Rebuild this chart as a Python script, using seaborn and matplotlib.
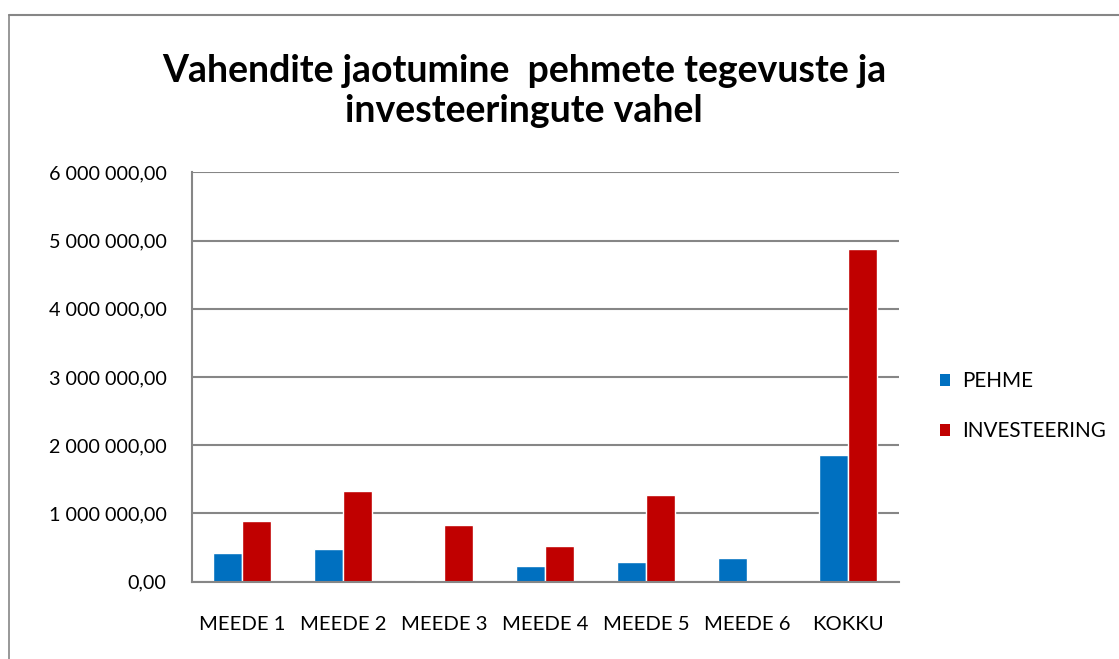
import matplotlib
matplotlib.use("Agg")
import matplotlib.pyplot as plt
import seaborn as sns
import pandas as pd
from matplotlib.ticker import FuncFormatter, MultipleLocator
from matplotlib.patches import Patch
from matplotlib.lines import Line2D

categories = ["MEEDE 1", "MEEDE 2", "MEEDE 3", "MEEDE 4", "MEEDE 5", "MEEDE 6", "KOKKU"]
pehme = [420000, 480000, 20000, 230000, 290000, 350000, 1860000]
investeering = [890000, 1330000, 830000, 520000, 1270000, 0, 4880000]
series_names = ["PEHME", "INVESTEERING"]
colors = ["#0070C0", "#C00000"]
title = "Vahendite jaotumine  pehmete tegevuste ja\ninvesteeringute vahel"

df = pd.DataFrame({
    "cat": categories * 2,
    "series": [series_names[0]] * len(categories) + [series_names[1]] * len(categories),
    "value": pehme + investeering,
})

sns.set_theme(style="white")
plt.rcParams["font.family"] = ["Lato", "DejaVu Sans"]
plt.rcParams["text.color"] = "black"

fig = plt.figure(figsize=(11.19, 6.59), dpi=100)
ax = fig.add_axes([191.5 / 1119, 1 - 581.7 / 659, 707 / 1119, 409.4 / 659])

sns.barplot(data=df, x="cat", y="value", hue="series", order=categories,
            hue_order=series_names, palette=dict(zip(series_names, colors)),
            width=0.575, gap=0, saturation=1, ax=ax, legend=False, errorbar=None)

ax.set_ylim(0, 6000000)
ax.set_xlim(-0.5, len(categories) - 0.5)
ax.yaxis.set_major_locator(MultipleLocator(1000000))

def fmt(v, pos):
    s = f"{v:,.2f}"
    return s.replace(",", " ").replace(".", ",")

ax.yaxis.set_major_formatter(FuncFormatter(fmt))
ax.grid(axis="y", color="#868686", linewidth=1.5)
ax.set_axisbelow(True)
for s in ["top", "right"]:
    ax.spines[s].set_visible(False)
for s in ["left", "bottom"]:
    ax.spines[s].set_color("#868686")
    ax.spines[s].set_linewidth(1.5)
ax.set_xlabel("")
ax.set_ylabel("")
ax.xaxis.set_tick_params(which="major", length=0, labelsize=14.6, pad=25, labelcolor="black")
ax.yaxis.set_tick_params(which="major", length=0, labelsize=14.2, pad=18, labelcolor="black")

fig.text(524 / 1119, 1 - 91 / 659, title, ha="center", va="center",
         fontsize=27, fontweight="bold", linespacing=1.2, color="black")

handles = [Patch(facecolor=c, edgecolor="none") for c in colors]
leg = fig.legend(handles, series_names, loc="center left",
                 bbox_to_anchor=(921 / 1119, 1 - 406 / 659), frameon=False,
                 fontsize=14.9, handlelength=0.5, handleheight=0.5,
                 handletextpad=0.58, labelspacing=1.45)
for t in leg.get_texts():
    t.set_color("black")

# chart area border (top and left edges visible)
fig.add_artist(Line2D([9 / 1119, 1], [1 - 15 / 659, 1 - 15 / 659],
                      transform=fig.transFigure, color="#868686", linewidth=1.5))
fig.add_artist(Line2D([9 / 1119, 9 / 1119], [0, 1 - 15 / 659],
                      transform=fig.transFigure, color="#868686", linewidth=1.2))

fig.savefig("out.png", dpi=100, facecolor="white")
